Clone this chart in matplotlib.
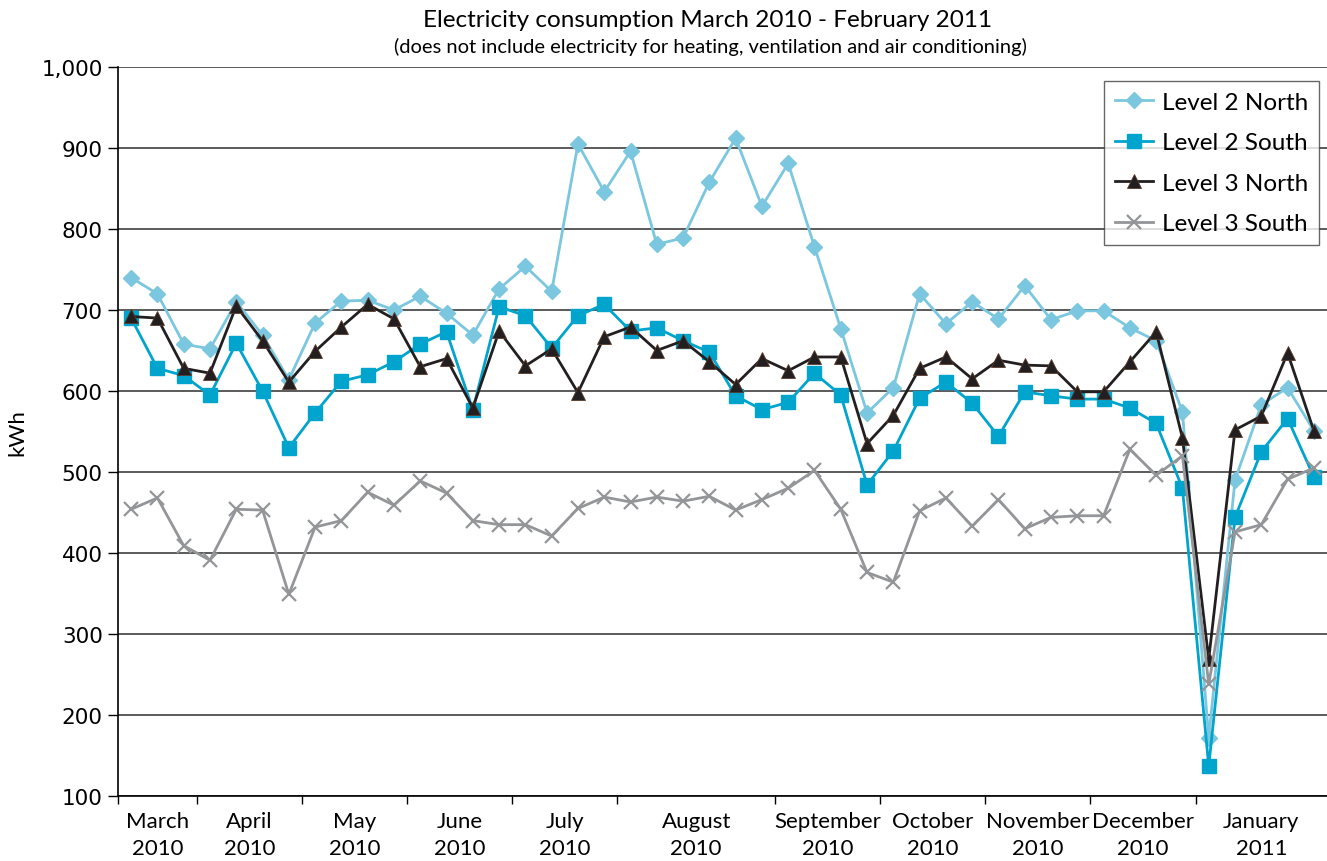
"""
Electricity consumption March 2010 - February 2011
Weekly kWh per floor section
"""

import matplotlib
matplotlib.use('Agg')
import matplotlib.pyplot as plt
import matplotlib.ticker as mticker
import numpy as np

plt.rcParams.update({
    'font.family': ['Lato', 'DejaVu Sans'],
    'font.size': 16,
})

# weekly readings (kWh)
level2_north = [740, 720, 658, 652, 710, 669, 614, 684, 711, 712, 700, 717, 696, 669, 726, 754,
                723, 905, 846, 896, 781, 789, 858, 912, 828, 881, 778, 677, 573, 604, 720, 683,
                710, 689, 730, 688, 699, 699, 678, 662, 574, 172, 490, 583, 604, 551]
level2_south = [690, 628, 619, 595, 659, 600, 530, 573, 612, 620, 636, 658, 673, 577, 704, 693,
                653, 693, 707, 674, 678, 662, 648, 594, 577, 586, 622, 595, 484, 526, 591, 611,
                585, 544, 599, 594, 590, 590, 579, 560, 480, 137, 444, 525, 566, 494]
level3_north = [692, 690, 628, 622, 705, 662, 611, 649, 679, 707, 689, 630, 640, 579, 674, 631,
                652, 598, 667, 679, 650, 662, 636, 608, 640, 625, 642, 642, 535, 570, 628, 642,
                615, 638, 632, 631, 599, 599, 636, 673, 542, 269, 552, 569, 647, 551]
level3_south = [454, 468, 409, 391, 454, 453, 349, 432, 440, 475, 459, 489, 474, 440, 435, 435,
                421, 455, 469, 463, 469, 464, 470, 453, 466, 480, 502, 454, 376, 364, 452, 468,
                433, 466, 430, 444, 446, 446, 528, 496, 520, 238, 426, 435, 491, 505]

# month label groups: first week index of each group (last entry = number of weeks)
month_labels = ['March\n2010', 'April\n2010', 'May\n2010', 'June\n2010', 'July\n2010',
                'August\n2010', 'September\n2010', 'October\n2010', 'November\n2010',
                'December\n2010', 'January\n2011']
month_edges = [0, 3, 7, 11, 15, 19, 25, 29, 33, 37, 41, 46]

fig = plt.figure(figsize=(13.27, 8.62), dpi=100)
ax = fig.add_axes([118 / 1327, 65 / 862, 1209 / 1327, 729 / 862])

x = np.arange(len(level2_north))

ax.plot(x, level2_north, color='#7bc7df', lw=2, marker='D', ms=8.5, label='Level 2 North')
ax.plot(x, level2_south, color='#00a4cc', lw=2, marker='s', ms=9.5, label='Level 2 South')
ax.plot(x, level3_north, color='#231f20', lw=2, marker='^', ms=9.5,
        mec='#5a3a2a', mew=0.6, label='Level 3 North')
ax.plot(x, level3_south, color='#939598', lw=2, marker='x', ms=10, mew=1.6,
        label='Level 3 South')

ax.set_xlim(-0.5, len(x) - 0.5)
ax.set_ylim(100, 1000)
ax.yaxis.set_major_locator(mticker.MultipleLocator(100))
ax.yaxis.set_major_formatter(mticker.FuncFormatter(lambda v, p: f'{v:,.0f}'))
ax.grid(axis='y', color='#2e2e2e', lw=1.1)
ax.set_axisbelow(True)

# boundaries get the tick marks, labels sit between them
edges = np.array(month_edges) - 0.5
ax.set_xticks(edges[:-1])
ax.set_xticklabels([])
ax.set_xticks((edges[:-1] + edges[1:]) / 2, minor=True)
ax.set_xticklabels(month_labels, minor=True, linespacing=1.4)
ax.tick_params(axis='x', which='major', direction='out', length=6, width=1)
ax.tick_params(axis='x', which='minor', length=0, pad=11, labelsize=16)
ax.tick_params(axis='y', direction='out', length=7, width=1, pad=4)
for lab in ax.get_yticklabels():
    lab.set_family('DejaVu Sans')
    lab.set_fontsize(15.5)

for s in ['top', 'right']:
    ax.spines[s].set_visible(False)
for s in ['left', 'bottom']:
    ax.spines[s].set_color('black')
    ax.spines[s].set_linewidth(1.2)

ax.set_ylabel('kWh', fontsize=16, labelpad=10)

leg = ax.legend(loc='upper right', bbox_to_anchor=(0.9935, 0.981), fontsize=17.5,
                frameon=True, fancybox=False, edgecolor='#404040', handlelength=1.6,
                labelspacing=0.8, borderpad=0.45, handletextpad=0.35, borderaxespad=0)
leg.get_frame().set_linewidth(1.0)

fig.text(0.533, 0.976, 'Electricity consumption March 2010 - February 2011',
         ha='center', va='center', fontsize=17.5)
fig.text(0.535, 0.945, '(does not include electricity for heating, ventilation and air conditioning)',
         ha='center', va='center', fontsize=14.5)

fig.savefig('out.png', dpi=100, facecolor='white')
plt.close()
